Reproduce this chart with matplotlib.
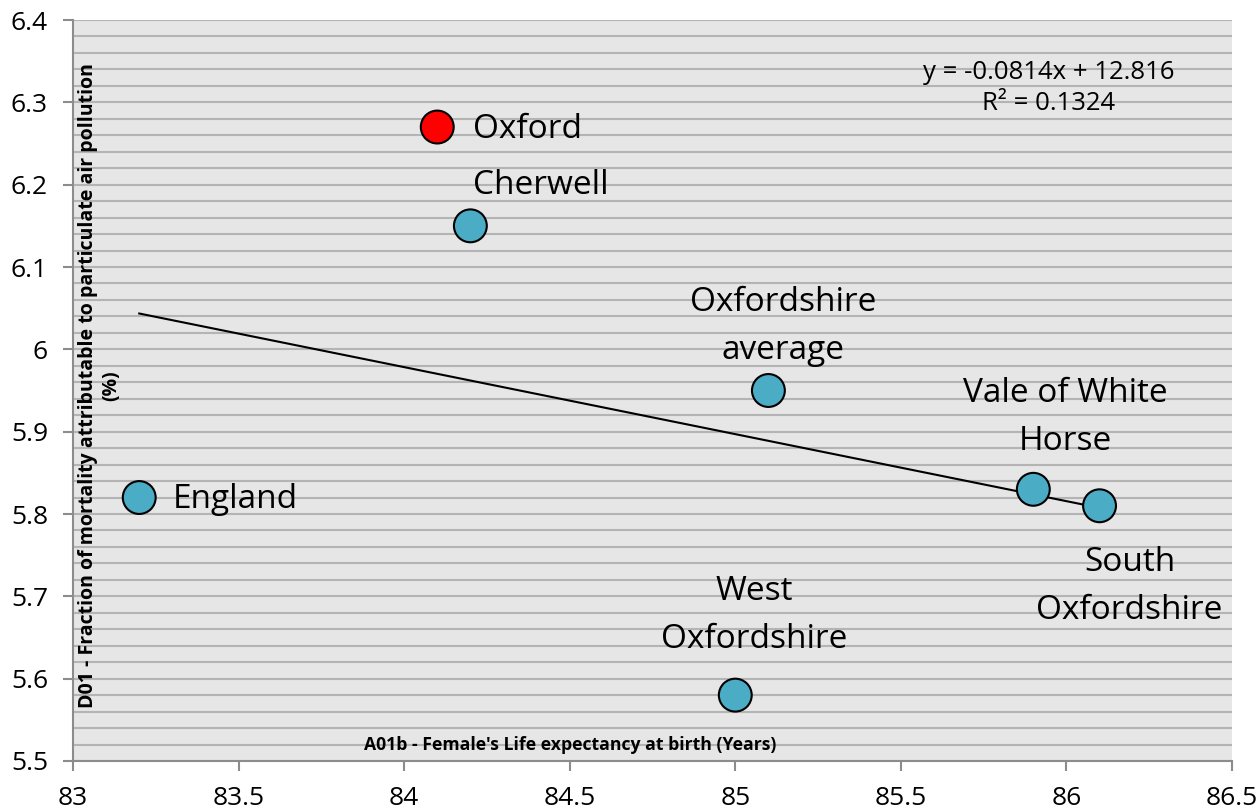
import matplotlib
matplotlib.use("Agg")
import matplotlib.pyplot as plt
from matplotlib.ticker import MultipleLocator, FuncFormatter
import numpy as np

plt.rcParams['font.family'] = ['Open Sans', 'DejaVu Sans']

# Data
names = ["Oxford", "Cherwell", "Oxfordshire\naverage", "Vale of White\nHorse",
         "South\nOxfordshire", "West\nOxfordshire", "England"]
life_exp = [84.1, 84.2, 85.1, 85.9, 86.1, 85.0, 83.2]
mortality = [6.27, 6.15, 5.95, 5.83, 5.81, 5.58, 5.82]
colors = ["#ff0000", "#4bacc6", "#4bacc6", "#4bacc6", "#4bacc6", "#4bacc6", "#4bacc6"]

slope = -0.0814
intercept = 12.816
r_squared = 0.1324
trend_x = [83.2, 86.1]

x_ticks = [83, 83.5, 84, 84.5, 85, 85.5, 86, 86.5]
y_ticks = [5.5, 5.6, 5.7, 5.8, 5.9, 6.0, 6.1, 6.2, 6.3, 6.4]

# label placement (offset in pixels, ha)
label_offsets = [(36, -2, 'left'), (3, 40, 'left'), (15, 64, 'center'),
                 (32, 72, 'center'), (30, -81, 'center'), (19, 80, 'center'),
                 (34, -2, 'left')]

fig = plt.figure(figsize=(12.6, 8.1), dpi=100)
ax = fig.add_axes([73/1260, 49/810, (1232-73)/1260, (761-20)/810])
ax.set_facecolor("#e6e6e6")

ax.set_xlim(83, 86.5)
ax.set_ylim(5.5, 6.4)
ax.set_xticks(x_ticks)
ax.set_yticks(y_ticks)
ax.yaxis.set_minor_locator(MultipleLocator(0.02))
ax.xaxis.set_major_formatter(FuncFormatter(lambda v, p: f"{v:g}"))
ax.yaxis.set_major_formatter(FuncFormatter(lambda v, p: f"{v:g}"))
ax.grid(axis='y', which='both', color="#b4b4b4", linewidth=1.5, zorder=0)
ax.set_axisbelow(True)

for s in ['top', 'right']:
    ax.spines[s].set_visible(False)
for s in ['left', 'bottom']:
    ax.spines[s].set_color("#8c8c8c")
    ax.spines[s].set_linewidth(1.5)
ax.tick_params(axis='both', which='major', direction='out', length=7, width=1.5,
               color="#8c8c8c", labelsize=19, labelcolor="black", pad=11)
ax.tick_params(axis='y', which='minor', length=0)

tx = np.array(trend_x)
ax.plot(tx, slope * tx + intercept, color="black", linewidth=1.5, zorder=2)

ax.scatter(life_exp, mortality, s=560, c=colors, edgecolors="black",
           linewidths=1.5, zorder=3)

for name, x, y, (dx, dy, ha) in zip(names, life_exp, mortality, label_offsets):
    ax.annotate(name, (x, y), xytext=(dx, dy), textcoords='offset pixels',
                ha=ha, va='center', fontsize=24, linespacing=1.6, zorder=4)

ax.text((1049-73)/1159, (761-88)/741, f"y = {slope}x + {intercept}\nR² = {r_squared}",
        transform=ax.transAxes, ha='center', va='center', fontsize=18.5,
        multialignment='center', linespacing=1.3)

ax.text((570-73)/1159, (761-745)/741, "A01b - Female's Life expectancy at birth (Years)",
        transform=ax.transAxes, ha='center', va='center', fontsize=12.7, fontweight='bold')
ax.text((100-73)/1159, (761-386)/741,
        "D01 - Fraction of mortality attributable to particulate air pollution\n(%)",
        transform=ax.transAxes, ha='center', va='center', rotation=90,
        fontsize=14, fontweight='bold', linespacing=1.2)

fig.savefig("out.png", dpi=100, facecolor="white")
